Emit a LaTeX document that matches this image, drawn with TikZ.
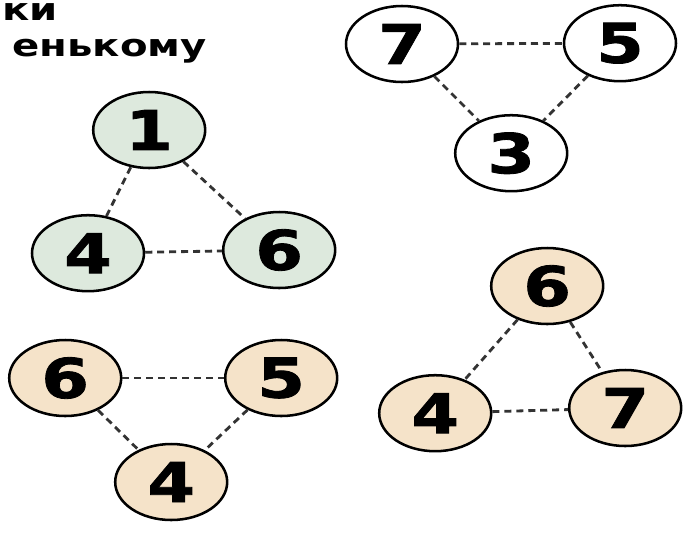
\documentclass[tikz,border=0pt]{standalone}
\usepackage{fontspec}
\usepackage{tkz-euclide}
\usetikzlibrary{shapes.geometric}
\newfontfamily\widefont[FakeStretch=1.3]{DejaVu Sans}
\newfontfamily\ballfont[FakeStretch=1.25,FakeBold=1.5]{DejaVu Sans Bold}
\definecolor{mintfill}{HTML}{DDE9DD}
\definecolor{sandfill}{HTML}{F5E3C9}
\tikzset{
  numball/.style={ellipse,draw,line width=1.8pt,minimum width=2.8cm,minimum height=1.9cm,
    inner sep=0pt,font=\ballfont\fontsize{39}{39}\selectfont},
  link/.style={dash pattern=on 5pt off 3.5pt,line width=2pt,black!80},
  headtext/.style={inner sep=0pt,font=\widefont\bfseries\fontsize{22}{26}\selectfont}
}

\begin{document}
\begin{tikzpicture}
            \useasboundingbox (0,0) rectangle (17.3,-13.325);
            \tkzDefPoint(10.05,-1.10){A}
            \tkzDefPoint(15.50,-1.08){B}
            \tkzDefPoint(12.78,-3.83){C}
            \tkzDefPoint(3.73,-3.25){D}
            \tkzDefPoint(2.20,-6.33){E}
            \tkzDefPoint(6.98,-6.25){F}
            \tkzDefPoint(1.63,-9.45){G}
            \tkzDefPoint(7.03,-9.45){H}
            \tkzDefPoint(4.28,-12.05){I}
            \tkzDefPoint(13.68,-7.15){J}
            \tkzDefPoint(10.88,-10.33){K}
            \tkzDefPoint(15.63,-10.20){L}
            \node[headtext,anchor=base east] (t1) at (1.45,-0.52) {ки};
            \node[headtext,anchor=base east] (t2) at (5.18,-1.40) {енькому};
            \node[numball,fill=white] (a) at (A) {7};
            \node[numball,fill=white] (b) at (B) {5};
            \node[numball,fill=white] (c) at (C) {3};
            \node[numball,fill=mintfill] (d) at (D) {1};
            \node[numball,fill=mintfill] (e) at (E) {4};
            \node[numball,fill=mintfill] (f) at (F) {6};
            \node[numball,fill=sandfill] (g) at (G) {6};
            \node[numball,fill=sandfill] (h) at (H) {5};
            \node[numball,fill=sandfill] (i) at (I) {4};
            \node[numball,fill=sandfill] (j) at (J) {6};
            \node[numball,fill=sandfill] (k) at (K) {4};
            \node[numball,fill=sandfill] (l) at (L) {7};
            \draw[link] (a) -- (b);
            \draw[link] (a) -- (c);
            \draw[link] (b) -- (c);
            \draw[link] (d) -- (e);
            \draw[link] (d) -- (f);
            \draw[link] (e) -- (f);
            \draw[link] (g) -- (h);
            \draw[link] (g) -- (i);
            \draw[link] (h) -- (i);
            \draw[link] (j) -- (k);
            \draw[link] (j) -- (l);
            \draw[link] (k) -- (l);
        \end{tikzpicture}
\end{document}
